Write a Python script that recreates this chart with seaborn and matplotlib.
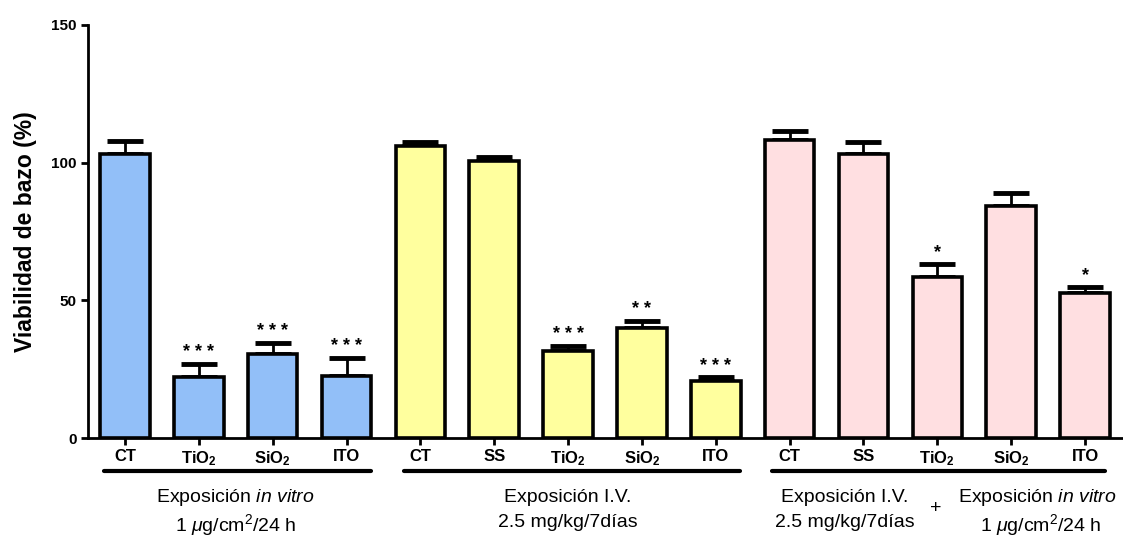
import numpy as np
import pandas as pd
import matplotlib
matplotlib.use('Agg')
import matplotlib.pyplot as plt
import seaborn as sns

# Data
labels = ['CT', 'TiO2', 'SiO2', 'ITO',
          'CT', 'SS', 'TiO2', 'SiO2', 'ITO',
          'CT', 'SS', 'TiO2', 'SiO2', 'ITO']
groups = ['in vitro'] * 4 + ['I.V.'] * 5 + ['I.V. + in vitro'] * 5
viabilidad = [103, 22, 30.5, 22.5,
              106, 100.5, 31.5, 40, 20.7,
              108.4, 103, 58.5, 84.4, 52.7]
sem = [5, 5, 4, 6.5,
       1.5, 1.5, 2, 2.5, 1.3,
       3.2, 4.6, 4.8, 4.6, 2.3]
stars = ['', '***', '***', '***',
         '', '', '***', '**', '***',
         '', '', '*', '', '*']
group_colors = {'in vitro': '#92BFF8', 'I.V.': '#FFFF9E', 'I.V. + in vitro': '#FFDFE1'}

tick_text = {'CT': 'CT', 'SS': 'SS', 'ITO': 'ITO',
             'TiO2': r'TiO$_\mathbf{2}$', 'SiO2': r'SiO$_\mathbf{2}$'}

sns.set_style('ticks')
plt.rcParams['font.family'] = ['Liberation Sans', 'DejaVu Sans']
plt.rcParams['mathtext.fontset'] = 'custom'
plt.rcParams['mathtext.bf'] = 'Liberation Sans:bold'
plt.rcParams['mathtext.rm'] = 'Liberation Sans'
plt.rcParams['mathtext.it'] = 'Liberation Sans:italic'
plt.rcParams['mathtext.sf'] = 'Liberation Sans'
for key in ['text.color', 'axes.labelcolor', 'xtick.color', 'ytick.color']:
    plt.rcParams[key] = 'black'

df = pd.DataFrame({'pos': np.arange(len(labels)), 'label': labels,
                   'group': groups, 'v': viabilidad, 'sem': sem})

fig = plt.figure(figsize=(11.23, 5.37), dpi=100)
ax = fig.add_axes([88 / 1123, 1 - 438 / 537, 1034 / 1123, 413 / 537])

ax.errorbar(df['pos'], df['v'], yerr=[np.zeros(len(df)), df['sem']],
            fmt='none', ecolor='black', elinewidth=2, capsize=13, capthick=3.5, zorder=1)
sns.barplot(data=df, x='pos', y='v', hue='group', palette=group_colors, dodge=False,
            saturation=1, width=0.67, edgecolor='black', linewidth=2.6, legend=False,
            ax=ax, zorder=2)

for i, s in enumerate(stars):
    if s:
        ax.text(i, viabilidad[i] + sem[i] + 1.0, ' '.join(s), ha='center', va='bottom',
                fontsize=13, fontweight='bold')

ax.set_xlim(-0.5, 13.5)
ax.set_ylim(0, 150)
ax.set_yticks([0, 50, 100, 150])
ax.set_xticks(range(len(labels)))
ax.set_xticklabels([tick_text[l] for l in labels], fontsize=12, fontweight='bold')
for t in ax.get_yticklabels():
    t.set_fontweight('bold')
    t.set_fontsize(11)
ax.set_xlabel('')
ax.set_ylabel('Viabilidad de bazo (%)', fontsize=16.5, fontweight='bold', labelpad=10)
ax.tick_params(axis='both', direction='out', width=2, length=5, color='black', pad=3)
sns.despine(ax=ax)
for sp in ['left', 'bottom']:
    ax.spines[sp].set_linewidth(2)
    ax.spines[sp].set_color('black')

# group brackets and descriptions
trans = ax.get_xaxis_transform()
brackets = [(-0.28, 3.33), (3.78, 8.33), (8.76, 13.27)]
for x0, x1 in brackets:
    ax.plot([x0, x1], [-0.08, -0.08], color='black', lw=3, transform=trans, clip_on=False)

fs = 14
ax.text(1.5, -0.145, 'Exposición $\\mathit{in\\ vitro}$', ha='center', va='center',
        fontsize=fs, transform=trans)
ax.text(1.5, -0.21, '1 $\\mu$g/cm$^2$/24 h', ha='center', va='center',
        fontsize=fs, transform=trans)
ax.text(6.0, -0.145, 'Exposición I.V.', ha='center', va='center', fontsize=fs, transform=trans)
ax.text(6.0, -0.205, '2.5 mg/kg/7días', ha='center', va='center', fontsize=fs, transform=trans)
ax.text(9.75, -0.145, 'Exposición I.V.', ha='center', va='center', fontsize=fs, transform=trans)
ax.text(9.75, -0.205, '2.5 mg/kg/7días', ha='center', va='center', fontsize=fs, transform=trans)
ax.text(10.98, -0.17, '+', ha='center', va='center', fontsize=fs, transform=trans)
ax.text(12.35, -0.145, 'Exposición $\\mathit{in\\ vitro}$', ha='center', va='center',
        fontsize=fs, transform=trans)
ax.text(12.4, -0.21, '1 $\\mu$g/cm$^2$/24 h', ha='center', va='center',
        fontsize=fs, transform=trans)

fig.savefig('out.png', dpi=100)
